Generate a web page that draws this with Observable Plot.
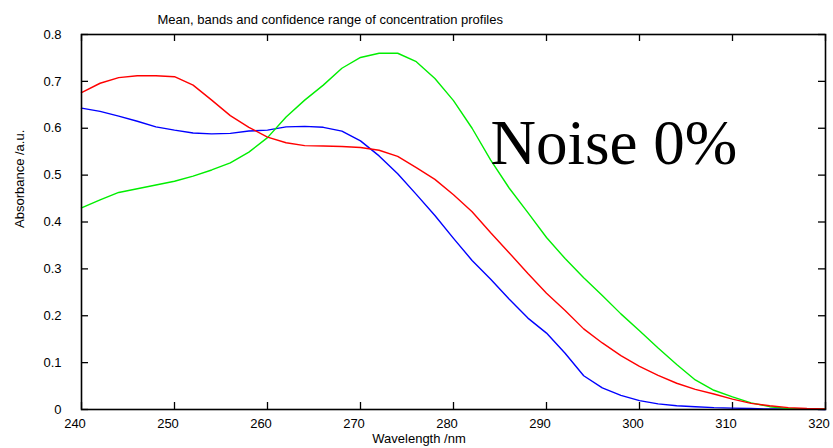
<!DOCTYPE html>
<html>
<head>
<meta charset="utf-8">
<script src="https://cdn.jsdelivr.net/npm/d3@7"></script>
<script src="https://cdn.jsdelivr.net/npm/@observablehq/plot@0.6"></script>
<style>
  html, body { margin: 0; padding: 0; background: #fff; }
  svg { display: block; }
</style>
</head>
<body>
<div id="chart"></div>
<script>
// Wavelength grid (nm)
const wavelength = [240,242,244,246,248,250,252,254,256,258,260,262,264,266,268,270,272,274,276,278,280,
                    282,284,286,288,290,292,294,296,298,300,302,304,306,308,310,312,314,316,318,320];

// Mean absorbance profiles of the three species
const redProfile = [0.676,0.696,0.708,0.712,0.712,0.710,0.692,0.660,0.627,0.602,0.581,0.569,0.563,0.562,0.561,0.559,0.553,0.540,0.516,0.491,0.458,
                    0.422,0.377,0.334,0.290,0.248,0.211,0.172,0.142,0.115,0.092,0.073,0.056,0.043,0.033,0.022,0.013,0.008,0.004,0.002,0.001];
const blueProfile = [0.643,0.636,0.626,0.615,0.603,0.596,0.590,0.588,0.589,0.594,0.596,0.603,0.604,0.602,0.594,0.573,0.541,0.503,0.459,0.414,0.365,
                     0.318,0.278,0.235,0.195,0.163,0.120,0.072,0.046,0.030,0.019,0.012,0.008,0.006,0.004,0.003,0.002,0.001,0.001,0.001,0.000];
const greenProfile = [0.430,0.447,0.463,0.471,0.479,0.487,0.498,0.511,0.526,0.549,0.580,0.624,0.660,0.692,0.728,0.751,0.760,0.760,0.742,0.706,0.659,
                      0.600,0.532,0.472,0.420,0.367,0.322,0.281,0.243,0.204,0.168,0.131,0.096,0.063,0.041,0.027,0.014,0.006,0.002,0.001,0.001];

// Tick values
const xTicks = [240,250,260,270,280,290,300,310,320];
const yTicks = [0,0.1,0.2,0.3,0.4,0.5,0.6,0.7,0.8];

const titleText = "Mean, bands and confidence range of concentration profiles";
const xLabel = "Wavelength /nm";
const yLabel = "Absorbance /a.u.";
const noteText = "Noise 0%";

const fmtY = d => d === 0 ? "0" : d.toFixed(1);

// plot geometry
const W = 833, H = 448;
const mTop = 34, mLeft = 81, mRight = 8, mBottom = 39;
const innerW = W - mLeft - mRight, innerH = H - mTop - mBottom;
const tickLen = 7;

const chart = Plot.plot({
  width: W,
  height: H,
  marginTop: mTop,
  marginLeft: mLeft,
  marginRight: mRight,
  marginBottom: mBottom,
  style: { fontFamily: "'Liberation Sans', Arial, sans-serif", fontSize: "13px", color: "#000", background: "#fff" },
  x: { domain: [240, 320] },
  y: { domain: [0, 0.8] },
  marks: [
    // tick labels
    Plot.axisX(xTicks, { anchor: "bottom", tickSize: 0, tickPadding: 9, dx: -6.5, tickFormat: d => String(d), label: null }),
    Plot.axisY(yTicks, { anchor: "left", tickSize: 0, tickPadding: 20, tickFormat: fmtY, label: null }),
    // inward tick marks on all four sides
    Plot.ruleX(xTicks, { x: d => d, insetTop: innerH - tickLen, stroke: "#000", strokeWidth: 1.3 }),
    Plot.ruleX(xTicks, { x: d => d, insetBottom: innerH - tickLen, stroke: "#000", strokeWidth: 1.3 }),
    Plot.ruleY(yTicks, { y: d => d, insetRight: innerW - tickLen, stroke: "#000", strokeWidth: 1.3 }),
    Plot.ruleY(yTicks, { y: d => d, insetLeft: innerW - tickLen, stroke: "#000", strokeWidth: 1.3 }),
    // profiles
    Plot.line(wavelength, { x: d => d, y: (d, i) => blueProfile[i], stroke: "#0000ff", strokeWidth: 1.4 }),
    Plot.line(wavelength, { x: d => d, y: (d, i) => greenProfile[i], stroke: "#00ee00", strokeWidth: 1.4 }),
    Plot.line(wavelength, { x: d => d, y: (d, i) => redProfile[i], stroke: "#ff0000", strokeWidth: 1.4 }),
    Plot.frame({ stroke: "#000", strokeWidth: 1.6 }),
    // titles and annotation
    Plot.text([titleText], { text: d => d, frameAnchor: "top-left", textAnchor: "start", lineAnchor: "bottom", dx: 76, dy: -11, fontSize: 13 }),
    Plot.text([xLabel], { text: d => d, frameAnchor: "bottom", lineAnchor: "bottom", dx: -34.5, dy: 33, fontSize: 13 }),
    Plot.text([yLabel], { text: d => d, frameAnchor: "left", rotate: -90, lineAnchor: "bottom", dx: -58, dy: 6, fontSize: 13 }),
    Plot.text([noteText], { text: d => d, frameAnchor: "top-left", textAnchor: "start", lineAnchor: "bottom", dx: 409, dy: 129, fontSize: 63, fontFamily: "'Liberation Serif', 'Times New Roman', serif" })
  ]
});

document.getElementById("chart").appendChild(chart);
</script>
</body>
</html>
